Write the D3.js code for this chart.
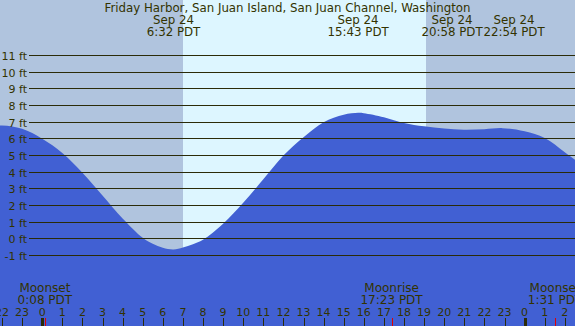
<!DOCTYPE html>
<html>
<head>
<meta charset="utf-8">
<script src="https://cdn.jsdelivr.net/npm/d3@7"></script>
<style>
  body { margin: 0; padding: 0; background: #fff; }
  svg { display: block; font-family: "DejaVu Sans", sans-serif; }
</style>
</head>
<body>
<div id="viz"></div>
<script>
// tide heights, hours counted from Sep 24 0:00 PDT
const tideHours = [-3, -2, -1, 0, 1, 2, 3, 4, 5, 5.5, 6, 6.53, 7, 7.5, 8, 9, 10, 11, 12, 13, 14, 15, 15.72, 16, 17, 18, 19, 20, 20.97, 22, 22.9, 24, 25, 26, 27];
const tideFeet  = [6.7, 6.8, 6.6, 6.0, 5.15, 3.97, 2.6, 1.22, 0.06, -0.3, -0.54, -0.64, -0.52, -0.32, -0.06, 0.9, 2.16, 3.57, 5.0, 6.1, 7.0, 7.45, 7.56, 7.54, 7.3, 6.95, 6.75, 6.62, 6.55, 6.58, 6.64, 6.45, 6.05, 5.2, 4.3];

// tide extremes shown at top
const eventHours = [6.533, 15.717, 20.967, 22.9];
const eventDates = ["Sep 24", "Sep 24", "Sep 24", "Sep 24"];
const eventTimes = ["6:32 PDT", "15:43 PDT", "20:58 PDT", "22:54 PDT"];

// moon events at bottom
const moonHours = [0.133, 17.383, 25.517];
const moonNames = ["Moonset", "Moonrise", "Moonset"];
const moonTimes = ["0:08 PDT", "17:23 PDT", "1:31 PDT"];

// daylight
const sunrise = 7.02;
const sunset = 19.1;

const feetTicks = d3.range(-1, 12);
const hourTicks = d3.range(-2, 27);

const title = "Friday Harbor, San Juan Island, San Juan Channel, Washington";

const width = 575, height = 326;
const textColor = "#333300";
const lineColor = "#2b2b08";

const svg = d3.select("#viz").append("svg")
  .attr("width", width)
  .attr("height", height);

const x = d3.scaleLinear().domain([0, 24]).range([42.2, 524.6]);
const y = d3.scaleLinear().domain([-1, 11]).range([255.5, 55.5]);

//background: night then day
svg.append("rect")
  .attr("x", 0).attr("y", 0)
  .attr("width", width).attr("height", height)
  .attr("fill", "#B0C4DE");
svg.append("rect")
  .attr("x", Math.round(x(sunrise)))
  .attr("y", 0)
  .attr("width", Math.round(x(sunset)) - Math.round(x(sunrise)))
  .attr("height", height)
  .attr("fill", "#DDF6FF");

//tide area
const tideData = tideHours.map((h, i) => ({h: h, v: tideFeet[i]}));
const area = d3.area()
  .x(d => x(d.h))
  .y0(height)
  .y1(d => y(d.v))
  .curve(d3.curveCatmullRom);
svg.append("path")
  .datum(tideData)
  .attr("d", area)
  .attr("fill", "#4160D3");

//grid lines + labels
feetTicks.forEach(f => {
  const yy = Math.round(y(f) - 0.5) + 0.5;
  svg.append("line")
    .attr("x1", 29).attr("x2", width)
    .attr("y1", yy).attr("y2", yy)
    .attr("stroke", lineColor)
    .attr("stroke-width", 1);
  svg.append("text")
    .attr("x", 27)
    .attr("y", yy + 4)
    .attr("text-anchor", "end")
    .attr("fill", textColor)
    .style("font-size", "11px")
    .text(f + " ft");
});

//title
svg.append("text")
  .attr("x", width / 2)
  .attr("y", 11.5)
  .attr("text-anchor", "middle")
  .attr("fill", textColor)
  .style("font-size", "11.8px")
  .text(title);

//event labels, pushed apart when they overlap
const minGap = 62;
const labelX = eventHours.map(h => x(h));
for (let i = 1; i < labelX.length; i++) {
  const gap = labelX[i] - labelX[i - 1];
  if (gap < minGap) {
    const push = (minGap - gap) / 2;
    labelX[i - 1] -= push;
    labelX[i] += push;
  }
}
eventHours.forEach((h, i) => {
  svg.append("text")
    .attr("x", labelX[i]).attr("y", 24)
    .attr("text-anchor", "middle")
    .attr("fill", textColor)
    .style("font-size", "11.8px")
    .text(eventDates[i]);
  svg.append("text")
    .attr("x", labelX[i]).attr("y", 36)
    .attr("text-anchor", "middle")
    .attr("fill", textColor)
    .style("font-size", "11.8px")
    .text(eventTimes[i]);
});

//hour ticks at the bottom
hourTicks.forEach(h => {
  const xx = Math.round(x(h)) + 0.5;
  const midnight = (h % 24 === 0);
  svg.append("line")
    .attr("x1", xx).attr("x2", xx)
    .attr("y1", 318).attr("y2", height)
    .attr("stroke", lineColor)
    .attr("stroke-width", midnight ? 3 : 1);
  svg.append("text")
    .attr("x", x(h))
    .attr("y", 316)
    .attr("text-anchor", "middle")
    .attr("fill", textColor)
    .style("font-size", "11px")
    .text(((h % 24) + 24) % 24);
});

//moon events
moonHours.forEach((h, i) => {
  const xx = Math.round(x(h)) + 0.5;
  svg.append("line")
    .attr("x1", xx).attr("x2", xx)
    .attr("y1", 318).attr("y2", height)
    .attr("stroke", "#e00000")
    .attr("stroke-width", 1);
  svg.append("text")
    .attr("x", x(h)).attr("y", 292)
    .attr("text-anchor", "middle")
    .attr("fill", textColor)
    .style("font-size", "12px")
    .text(moonNames[i]);
  svg.append("text")
    .attr("x", x(h)).attr("y", 304)
    .attr("text-anchor", "middle")
    .attr("fill", textColor)
    .style("font-size", "12px")
    .text(moonTimes[i]);
});
</script>
</body>
</html>
